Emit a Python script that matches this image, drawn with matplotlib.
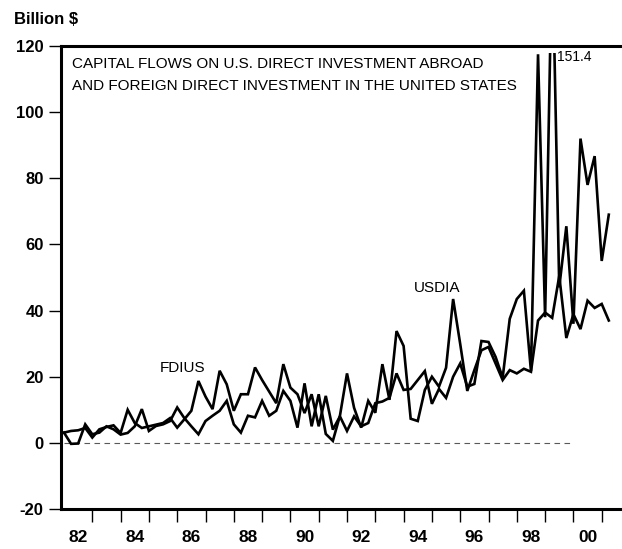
import matplotlib
matplotlib.use("Agg")
import matplotlib.pyplot as plt
from matplotlib.patches import Rectangle
import numpy as np

# Quarterly capital flows, billions of dollars, 1982Q1 - 2001Q2
first_year = 1982
fdius = [
    3.1, 3.6, 3.8, 4.5,      # 1982
    1.6, 4.1, 4.8, 5.3,      # 1983
    3.0, 10.0, 6.0, 4.5,     # 1984
    5.0, 5.5, 6.0, 7.5,      # 1985
    4.6, 7.1, 9.7, 18.7,     # 1986
    14.0, 10.2, 21.8, 17.7,  # 1987
    9.7, 14.7, 14.7, 22.8,   # 1988
    19.0, 15.5, 12.0, 23.8,  # 1989
    16.7, 14.7, 9.0, 14.7,   # 1990
    5.0, 14.2, 4.0, 8.0,     # 1991
    3.6, 8.0, 5.0, 6.0,      # 1992
    12.0, 12.5, 13.6, 21.0,  # 1993
    16.0, 16.3, 19.0, 21.7,  # 1994
    11.8, 16.3, 13.6, 20.0,  # 1995
    24.0, 17.0, 17.8, 30.8,  # 1996
    30.5, 26.0, 19.7, 37.5,  # 1997
    43.5, 46.0, 21.7, 117.5, # 1998
    38.0, 151.4, 47.0, 65.5, # 1999
    36.0, 92.0, 78.0, 86.7,  # 2000
    55.0, 69.0,              # 2001
]
usdia = [
    3.1, -0.3, -0.2, 5.6,    # 1982
    2.6, 3.1, 5.0, 4.1,      # 1983
    2.5, 3.0, 5.0, 10.2,     # 1984
    3.6, 5.1, 5.6, 6.6,      # 1985
    10.7, 7.5, 5.0, 2.6,     # 1986
    6.6, 8.2, 9.7, 12.7,     # 1987
    5.6, 3.1, 8.2, 7.7,      # 1988
    12.7, 8.2, 9.7, 15.7,    # 1989
    12.7, 4.6, 18.0, 5.0,    # 1990
    14.7, 2.7, 0.6, 8.2,     # 1991
    21.0, 10.6, 4.6, 12.7,   # 1992
    9.1, 23.8, 13.0, 33.8,   # 1993
    29.3, 7.3, 6.6, 16.0,    # 1994
    20.0, 17.0, 22.7, 43.5,  # 1995
    29.9, 15.7, 22.0, 28.0,  # 1996
    29.0, 24.0, 19.0, 22.0,  # 1997
    21.0, 22.4, 21.5, 37.0,  # 1998
    39.4, 37.8, 50.5, 31.7,  # 1999
    38.9, 34.4, 43.0, 40.8,  # 2000
    42.0, 37.0,              # 2001
]
year_labels = ["82", "84", "86", "88", "90", "92", "94", "96", "98", "00"]
y_ticks = [-20, 0, 20, 40, 60, 80, 100, 120]

plt.rcParams['font.family'] = ['Liberation Sans', 'DejaVu Sans']

W, H = 622, 549
fig = plt.figure(figsize=(W / 100, H / 100), dpi=100)
ax = fig.add_axes([61 / W, 1 - 509 / H, 1 - 61 / W, (509 - 46) / H])

t = first_year + np.arange(len(fdius)) / 4.0
x0, x1 = 1981.894, 2001.717
ax.set_xlim(x0, x1)
ax.set_ylim(-20, 120)

# plotting region stops just under the frame; tall spikes get cut there
clip = Rectangle((x0, -20), x1 - x0, 138, transform=ax.transData,
                 facecolor='none', edgecolor='none')
ax.add_patch(clip)

ax.plot([1982, 2000], [0, 0], color='0.35', lw=0.8, ls=(0, (5, 4)))
for series in (fdius, usdia):
    ln, = ax.plot(t, series, color='black', lw=1.9, solid_joinstyle='miter')
    ln.set_clip_path(clip)

for side in ('left', 'bottom', 'top'):
    ax.spines[side].set_linewidth(2.2)
ax.spines['right'].set_visible(False)

ax.set_yticks(y_ticks)
ax.set_yticklabels([str(v) for v in y_ticks], fontsize=12, fontweight='bold')
ax.tick_params(axis='y', direction='out', length=8.5, width=1.0, pad=4)

ax.set_xticks(np.arange(first_year + 1, 2002))
ax.set_xticklabels([])
ax.tick_params(axis='x', which='major', direction='out', length=9.5, width=1.0)
ax.set_xticks([int("19" + s) + 0.5 if s != "00" else 2000.5 for s in year_labels],
              minor=True)
ax.set_xticklabels(year_labels, minor=True, fontsize=12.5, fontweight='bold')
ax.tick_params(axis='x', which='minor', length=0, pad=15)

ax.text(0.0196, 0.953, "CAPITAL FLOWS ON U.S. DIRECT INVESTMENT ABROAD",
        transform=ax.transAxes, fontsize=11, va='baseline', ha='left')
ax.text(0.0196, 0.906, "AND FOREIGN DIRECT INVESTMENT IN THE UNITED STATES",
        transform=ax.transAxes, fontsize=11, va='baseline', ha='left')

ax.text(1986.2, 22.6, "FDIUS", fontsize=11, ha='center', va='center')
ax.text(1995.18, 46.8, "USDIA", fontsize=11, ha='center', va='center')
ax.text(1999.42, 116.7, "151.4", fontsize=10, ha='left', va='center')

fig.text(14 / W, 1 - 19 / H, "Billion $", fontsize=12, fontweight='bold',
         ha='left', va='center')

fig.savefig("out.png", dpi=100)
